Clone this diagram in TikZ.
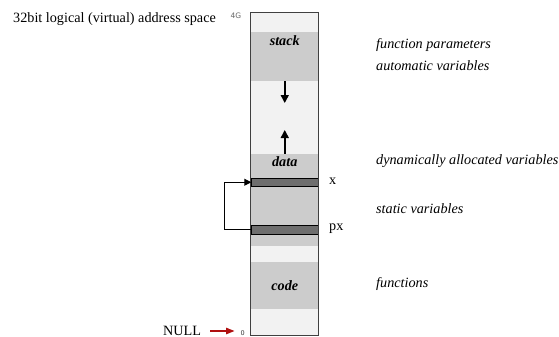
\documentclass[tikz,border=0pt]{standalone}
\usepackage{fontspec}
\setmainfont{Liberation Serif}
\setsansfont{DejaVu Sans}
\usetikzlibrary{arrows.meta}
\definecolor{lightbg}{HTML}{F2F2F2}
\definecolor{midgray}{HTML}{CCCCCC}
\definecolor{bargray}{HTML}{6E6E6E}
\definecolor{nullred}{HTML}{B01010}
\tikzset{
  region/.style={fill=midgray, draw=none, minimum width=67.5pt, inner sep=0pt, outer sep=0pt},
  bar/.style={fill=bargray, draw=black, line width=0.8pt, minimum width=67pt, inner sep=0pt, outer sep=0pt},
  seglabel/.style={font=\fontsize{14.2}{16}\selectfont\bfseries\itshape, inner sep=0pt},
  note/.style={font=\fontsize{14.2}{16}\selectfont\itshape, anchor=west, inner sep=0pt},
  plain/.style={font=\fontsize{14.2}{16}\selectfont, inner sep=0pt},
  tiny/.style={font=\sffamily\fontsize{7.5}{9}\selectfont, text=black!60, inner sep=0pt},
  growarrow/.style={-{Triangle[length=8pt,width=8pt]}, line width=1.5pt},
}
\begin{document}
\begin{tikzpicture}[x=1pt,y=-1pt]
\useasboundingbox (0,0) rectangle (559,337);
% outer space
\node[fill=lightbg, draw=none, minimum width=67.5pt, minimum height=322.5pt, inner sep=0pt] (space) at (284.75,173.75) {};
% regions
\node[region, minimum height=49pt] (stack) at (284.75,56.5) {};
\node[region, minimum height=92.5pt] (data) at (284.75,199.75) {};
\node[region, minimum height=47pt] (code) at (284.75,285) {};
\node[bar, minimum height=8.5pt] (xbar) at (284.75,182.25) {};
\node[bar, minimum height=9pt] (pxbar) at (284.75,229.5) {};
% outline
\draw[draw=black!75, line width=1pt] (space.south west) rectangle (space.north east);
% segment labels
\node[seglabel] (stackl) at (284.75,41) {stack};
\node[seglabel] (datal) at (284.75,162) {data};
\node[seglabel] (codel) at (284.75,286) {code};
% growth arrows
\coordinate (downend) at (284.75,103);
\coordinate (upend) at (284.75,130);
\draw[growarrow] (stack.south) -- (downend);
\draw[growarrow] (data.north) -- (upend);
% pointer bracket
\coordinate (bend) at (224.5,229.5);
\draw[-{Triangle[length=7pt,width=7pt]}, line width=1pt] (pxbar.west) -- (bend) |- (xbar.west);
% var labels
\node[plain, anchor=west] (xl) at (329,181) {x};
\node[plain, anchor=west] (pxl) at (329,228.5) {px};
% notes
\node[note] (n1) at (376,45) {function parameters};
\node[note] (n2) at (376,66) {automatic variables};
\node[note] (n3) at (376,161) {dynamically allocated variables};
\node[note] (n4) at (376,209) {static variables};
\node[note] (n5) at (376,284) {functions};
% title and tiny labels
\node[plain, anchor=west] (title) at (13,19) {32bit logical (virtual) address space};
\node[tiny] (g4) at (236,15.5) {4G};
\node[font=\sffamily\fontsize{6.5}{8}\selectfont, text=black!80, inner sep=0pt] (zero) at (242.7,333) {0};
% NULL
\node[plain, anchor=west] (null) at (163,330.5) {NULL};
\coordinate (nstart) at (210,331);
\coordinate (nend) at (234.5,331);
\draw[-{Triangle[length=8.5pt,width=6.5pt]}, line width=1.2pt, draw=nullred] (nstart) -- (nend);
\end{tikzpicture}
\end{document}
